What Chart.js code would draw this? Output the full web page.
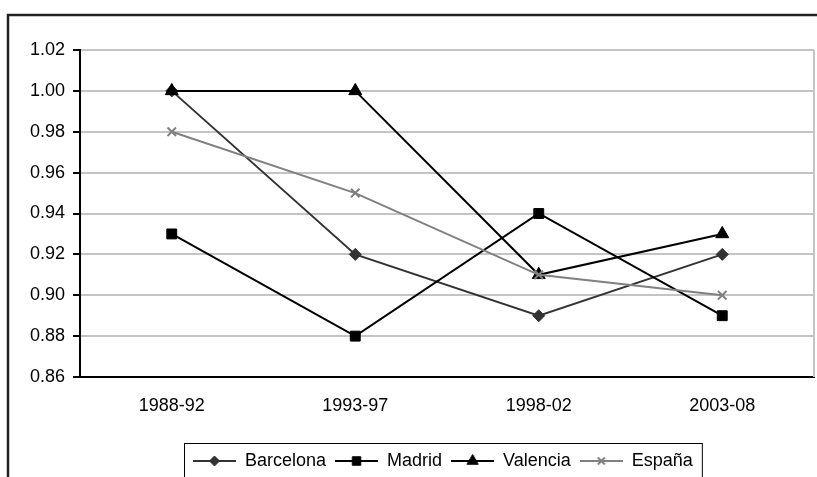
<!DOCTYPE html>
<html>
<head>
<meta charset="utf-8">
<script src="https://cdn.jsdelivr.net/npm/chart.js@4.4.1/dist/chart.umd.min.js"></script>
<style>
    html, body { margin: 0; padding: 0; background: #fff; }
</style>
</head>
<body>
<canvas id="grafico" width="817" height="477"></canvas>
<script>
const periodos = ['1988-92', '1993-97', '1998-02', '2003-08'];
const barcelona = [1.00, 0.92, 0.89, 0.92];
const madrid = [0.93, 0.88, 0.94, 0.89];
const valencia = [1.00, 1.00, 0.91, 0.93];
const espana = [0.98, 0.95, 0.91, 0.90];
const ejeMin = 0.86;
const ejeMax = 1.02;
const ejePaso = 0.02;

const fuente = { family: "'Liberation Sans', Arial, sans-serif", size: 18 };
const gris = '#c4c4c4';

function serie(label, data, color, estilo, radio, orden) {
    return {
        label: label,
        data: data,
        borderColor: color,
        backgroundColor: color,
        pointBackgroundColor: color,
        pointBorderColor: color,
        pointStyle: estilo,
        pointRadius: radio,
        pointBorderWidth: estilo === 'crossRot' ? 2 : 1,
        borderWidth: 2,
        tension: 0,
        order: orden
    };
}

const datasets = [
    serie('Barcelona', barcelona, '#333333', 'rectRot', 6, 4),
    serie('Madrid', madrid, '#000000', 'rect', 7, 3),
    serie('Valencia', valencia, '#000000', 'triangle', 7.5, 2),
    serie('España', espana, '#808080', 'crossRot', 6, 1)
];

// small line + marker image for each legend entry
function simbolo(ds) {
    const c = document.createElement('canvas');
    c.width = 43;
    c.height = 18;
    const ctx = c.getContext('2d');
    ctx.strokeStyle = ds.borderColor;
    ctx.lineWidth = 2;
    ctx.beginPath();
    ctx.moveTo(0, 9);
    ctx.lineTo(43, 9);
    ctx.stroke();
    ctx.fillStyle = ds.pointBackgroundColor;
    ctx.strokeStyle = ds.pointBorderColor;
    ctx.lineWidth = ds.pointBorderWidth;
    Chart.helpers.drawPoint(ctx, {
        pointStyle: ds.pointStyle,
        radius: ds.pointRadius - 1,
        rotation: 0,
        borderWidth: ds.pointBorderWidth
    }, 21.5, 9);
    return c;
}

const marco = {
    id: 'marco',
    afterLayout(chart) {
        const lg = chart.legend;
        const alto = lg.bottom - lg.top;
        lg.left = 184;
        lg.top = 443;
        lg.bottom = lg.top + alto;
    },
    beforeDatasetsDraw(chart) {
        const { ctx, chartArea } = chart;
        ctx.save();
        ctx.strokeStyle = gris;
        ctx.lineWidth = 2;
        ctx.beginPath();
        ctx.moveTo(chartArea.right, chartArea.top);
        ctx.lineTo(chartArea.right, chartArea.bottom);
        ctx.stroke();
        ctx.restore();
    },
    afterDraw(chart) {
        const ctx = chart.ctx;
        const lg = chart.legend;
        const pad = lg.options.labels.padding;
        ctx.save();
        ctx.strokeStyle = '#000';
        ctx.lineWidth = 1;
        ctx.strokeRect(lg.left + 0.5, lg.top + 0.5, pad + lg.lineWidths[0], 60);
        ctx.strokeStyle = '#222';
        ctx.lineWidth = 2.5;
        ctx.strokeRect(8, 15, 900, 600);
        ctx.restore();
    }
};

new Chart(document.getElementById('grafico').getContext('2d'), {
    type: 'line',
    data: { labels: periodos, datasets: datasets },
    options: {
        responsive: false,
        animation: false,
        devicePixelRatio: 1,
        layout: { autoPadding: false, padding: { top: 50, right: 3, bottom: 0, left: 0 } },
        plugins: {
            tooltip: { enabled: false },
            legend: {
                position: 'bottom',
                align: 'start',
                labels: {
                    usePointStyle: true,
                    pointStyleWidth: 43,
                    padding: 9,
                    color: '#000',
                    font: fuente,
                    generateLabels: function (chart) {
                        return chart.data.datasets.map(function (ds, i) {
                            return {
                                text: ds.label,
                                pointStyle: simbolo(ds),
                                fillStyle: ds.borderColor,
                                strokeStyle: ds.borderColor,
                                lineWidth: 0,
                                hidden: false,
                                datasetIndex: i,
                                fontColor: '#000'
                            };
                        });
                    }
                }
            }
        },
        scales: {
            x: {
                offset: true,
                afterFit: function (scale) {
                    scale.height = 63;
                    scale.paddingLeft = 0;
                    scale.paddingRight = 0;
                },
                grid: { display: false, drawTicks: false },
                border: { display: true, color: '#000', width: 2 },
                ticks: { color: '#000', font: fuente, padding: 18, maxRotation: 0 }
            },
            y: {
                min: ejeMin,
                max: ejeMax,
                afterFit: function (scale) { scale.width = 80; },
                grid: { color: gris, lineWidth: 2, tickColor: '#000', tickLength: 7, tickWidth: 2 },
                border: { display: true, color: '#000', width: 2 },
                ticks: {
                    stepSize: ejePaso,
                    color: '#000',
                    font: fuente,
                    padding: 8,
                    callback: function (v) { return v.toFixed(2); }
                }
            }
        }
    },
    plugins: [marco]
});
</script>
</body>
</html>
